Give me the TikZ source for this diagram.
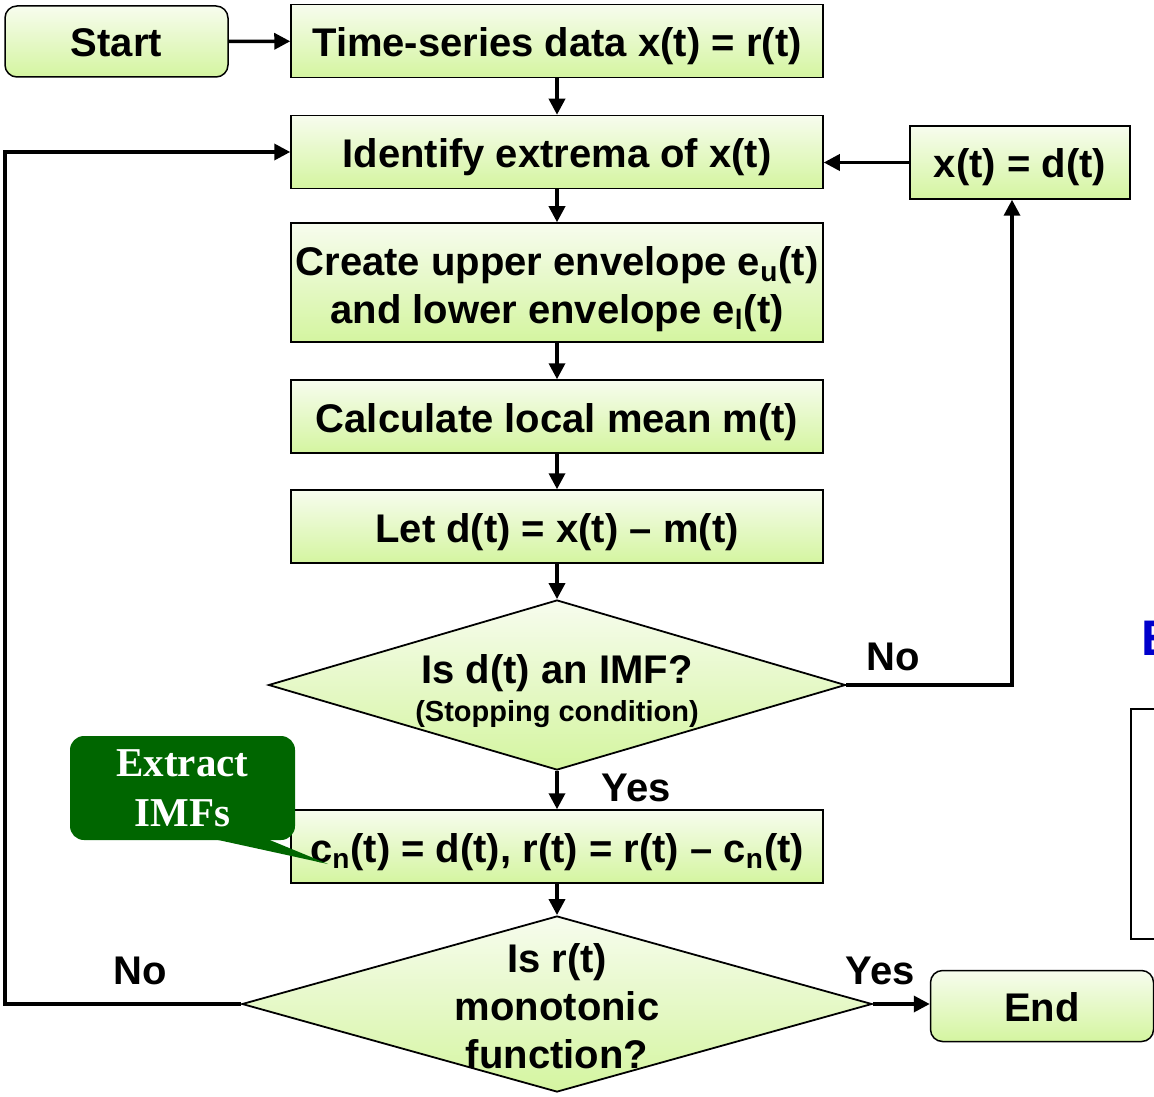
\documentclass[tikz,border=0pt]{standalone}
\usepackage{fontspec}
\setmainfont{Liberation Sans}
\newfontfamily\calloutfont{Liberation Serif}
\usetikzlibrary{shapes.geometric,arrows.meta,positioning,calc}
\definecolor{boxtop}{RGB}{247,252,238}
\definecolor{boxbot}{RGB}{212,245,160}
\definecolor{calloutgreen}{RGB}{0,102,0}
\definecolor{titleblue}{RGB}{0,0,204}
\tikzset{
  stepbox/.style={draw, line width=0.75pt, top color=boxtop, bottom color=boxbot,
    minimum width=266pt, minimum height=36.5pt, inner sep=2pt, align=center,
    text height=16pt, text depth=0.5pt,
    font=\bfseries\fontsize{20}{24}\selectfont},
  terminal/.style={stepbox, rounded corners=6pt, minimum width=111.5pt, minimum height=35.5pt},
  decision/.style={diamond, draw, line width=0.9pt, top color=boxtop, bottom color=boxbot,
    inner sep=0pt},
  flowtext/.style={align=center, inner sep=0pt, font=\bfseries\fontsize{20}{24}\selectfont},
  calloutbox/.style={fill=calloutgreen, rounded corners=7pt, minimum width=112.5pt,
    minimum height=52pt, text=white, align=center,
    font=\calloutfont\bfseries\fontsize{20.5}{25}\selectfont}
}
\begin{document}
\begin{tikzpicture}[x=0.5pt, y=-0.5pt,
    flow/.style={line width=1.75pt, -{Triangle[length=8pt,width=8pt]}}]
  \useasboundingbox (0,0) rectangle (1154,1096);
  % boxes of the main column
  \node[terminal] (start) at (116.5,41.5) {Start};
  \node[stepbox] (series) at (557,41) {Time-series data x(t) = r(t)};
  \node[stepbox] (extrema) at (557,152) {Identify extrema of x(t)};
  \node[stepbox, minimum width=110pt] (xd) at (1020,162.5) {x(t) = d(t)};
  \node[stepbox, minimum height=59.5pt, text height=41.5pt, text depth=0.5pt] (envelope) at (557,282.5)
    {Create upper envelope e\textsubscript{u}(t)\\and lower envelope e\textsubscript{l}(t)};
  \node[stepbox] (mean) at (557,416.5) {Calculate local mean m(t)};
  \node[stepbox] (diff) at (557,526.5) {Let d(t) = x(t) -- m(t)};
  \node[decision, minimum width=288.5pt, minimum height=85pt] (imfq) at (557,685) {};
  \node[flowtext, yshift=-3pt] (imfqtext) at (imfq)
    {Is d(t) an IMF?\\[-5pt]{\fontsize{14.5}{17}\selectfont (Stopping condition)}};
  \node[stepbox] (cn) at (557,846.5)
    {c\textsubscript{n}(t) = d(t), r(t) = r(t) -- c\textsubscript{n}(t)};
  \node[decision, minimum width=315pt, minimum height=88pt] (monoq) at (557,1004) {};
  \node[flowtext, yshift=-1.25pt] (monoqtext) at (monoq) {Is r(t)\\monotonic\\function?};
  \node[terminal] (end) at (1042,1006) {End};
  \coordinate (back) at (5,0);

  % connectors
  \draw[flow] (start) -- (series);
  \draw[flow] (series) -- (extrema);
  \draw[flow] (extrema) -- (envelope);
  \draw[flow] (envelope) -- (mean);
  \draw[flow] (mean) -- (diff);
  \draw[flow] (diff) -- (imfq);
  \draw[flow] (imfq.east) -| ([xshift=-4pt]xd.south);
  \draw[flow] (xd.west) -- (xd.west -| extrema.east);
  \draw[flow] (imfq.south) -- (cn.north);
  \draw[flow] (cn.south) -- (monoq.north);
  \draw[flow] (monoq.east) -- (monoq.east -| end.west);
  \draw[flow] (monoq.west) -- (monoq.west -| back) -- (extrema.west -| back) -- (extrema.west);

  % labels
  \node[flowtext] (imfno) at (893,657) {No};
  \node[flowtext] (imfyes) at (636,788) {Yes};
  \node[flowtext] (monono) at (140,971) {No};
  \node[flowtext] (monoyes) at (880,971) {Yes};

  % callout
  \node[calloutbox] (imfs) at (182.5,788) {Extract\\IMFs};
  \fill[calloutgreen] (200,836) -- (328,864) -- (260,836) -- cycle;

  % cut-off part at the right edge
  \begin{scope}
    \clip (0,0) rectangle (1154,1096);
    \node[anchor=west, inner sep=0pt, text=titleblue,
      font=\bfseries\fontsize{25}{30}\selectfont] (etitle) at (1141,638) {E};
    \draw[line width=1pt] (1170,709) -- (1131,709) -- (1131,939) -- (1170,939);
  \end{scope}
\end{tikzpicture}
\end{document}
